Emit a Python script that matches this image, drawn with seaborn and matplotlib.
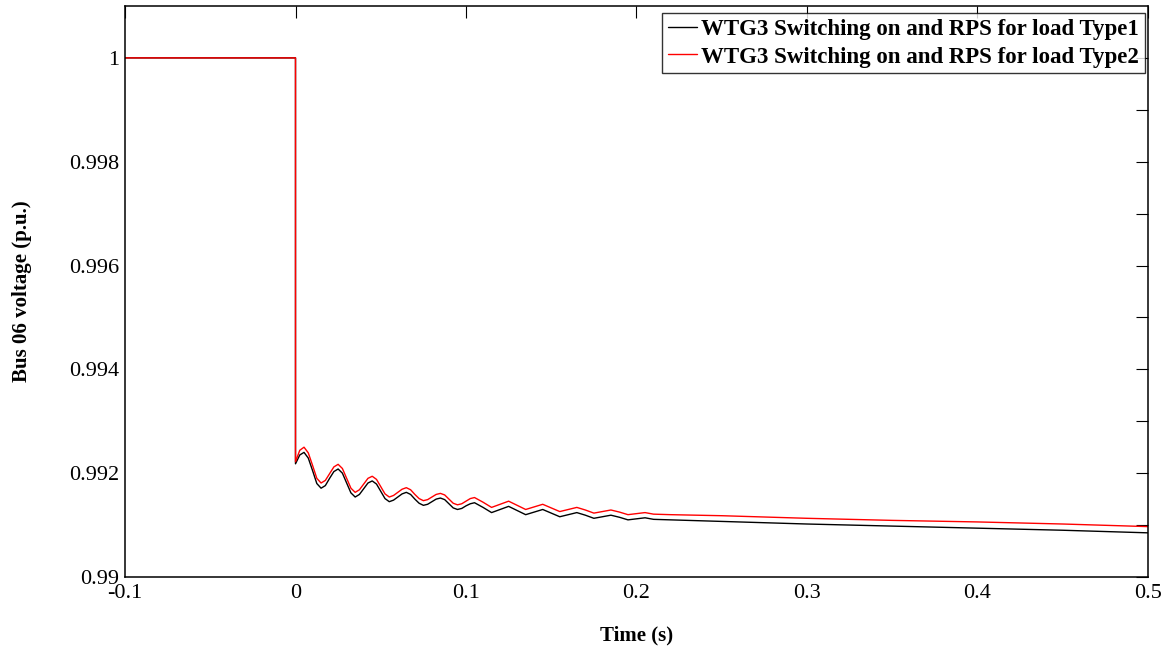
import numpy as np
import pandas as pd
import matplotlib
matplotlib.use("Agg")
import matplotlib.pyplot as plt
import seaborn as sns

# ---- data ----
time_s = [-0.1, 0.0, 0.0, 0.0025, 0.005, 0.0075, 0.010, 0.0125, 0.015, 0.0175, 0.020, 0.0225,
          0.025, 0.0275, 0.030, 0.0325, 0.035, 0.0375, 0.040, 0.0425, 0.045, 0.0475, 0.050,
          0.0525, 0.055, 0.0575, 0.060, 0.0625, 0.065, 0.0675, 0.070, 0.0725, 0.075, 0.0775,
          0.080, 0.0825, 0.085, 0.0875, 0.090, 0.0925, 0.095, 0.0975, 0.100, 0.1025, 0.105,
          0.110, 0.115, 0.120, 0.125, 0.130, 0.135, 0.140, 0.145, 0.150, 0.155, 0.160, 0.165,
          0.170, 0.175, 0.180, 0.185, 0.190, 0.195, 0.200, 0.205, 0.21, 0.22, 0.25, 0.30,
          0.35, 0.40, 0.45, 0.50]

v_type1 = [1.0, 1.0, 0.99218, 0.99235, 0.99240, 0.99229, 0.99205, 0.99180, 0.99171, 0.99176,
           0.99190, 0.99203, 0.99208, 0.99200, 0.99181, 0.99162, 0.99154, 0.99159, 0.99170,
           0.99181, 0.99185, 0.99179, 0.99165, 0.99151, 0.99145, 0.99148, 0.99154, 0.99160,
           0.99163, 0.99159, 0.99150, 0.99142, 0.99138, 0.99140, 0.99145, 0.99150, 0.99152,
           0.99149, 0.99141, 0.99133, 0.99130, 0.99132, 0.99137, 0.99141, 0.99143, 0.99134,
           0.99124, 0.99130, 0.99136, 0.99128, 0.99120, 0.99125, 0.99130, 0.99123, 0.99116,
           0.99120, 0.99124, 0.99119, 0.99113, 0.99116, 0.99119, 0.99115, 0.99110, 0.99112,
           0.99114, 0.99111, 0.99110, 0.99107, 0.99102, 0.99098, 0.99094, 0.99090, 0.99085]

v_type2 = [1.0, 1.0, 0.99222, 0.99244, 0.99250, 0.99239, 0.99215, 0.99190, 0.99181, 0.99186,
           0.99199, 0.99212, 0.99217, 0.99209, 0.99190, 0.99171, 0.99163, 0.99168, 0.99179,
           0.99190, 0.99194, 0.99188, 0.99174, 0.99160, 0.99154, 0.99157, 0.99163, 0.99169,
           0.99172, 0.99168, 0.99159, 0.99151, 0.99147, 0.99149, 0.99154, 0.99159, 0.99161,
           0.99158, 0.99150, 0.99142, 0.99139, 0.99141, 0.99146, 0.99151, 0.99153, 0.99144,
           0.99134, 0.99140, 0.99146, 0.99138, 0.99130, 0.99135, 0.99140, 0.99133, 0.99126,
           0.99130, 0.99134, 0.99129, 0.99123, 0.99126, 0.99129, 0.99125, 0.99120, 0.99122,
           0.99124, 0.99121, 0.99120, 0.99118, 0.99113, 0.99109, 0.99106, 0.99102, 0.99097]

series_names = ["WTG3 Switching on and RPS for load Type1",
                "WTG3 Switching on and RPS for load Type2"]
series_colors = ["#000000", "#ff0000"]

x_ticks = [-0.1, 0.0, 0.1, 0.2, 0.3, 0.4, 0.5]
x_tick_labels = ["-0.1", "0", "0.1", "0.2", "0.3", "0.4", "0.5"]
y_ticks = [0.990, 0.991, 0.992, 0.993, 0.994, 0.995, 0.996, 0.997, 0.998, 0.999, 1.000]
y_tick_labels = ["0.99", "", "0.992", "", "0.994", "", "0.996", "", "0.998", "", "1"]

df = pd.concat([
    pd.DataFrame({"t": time_s, "v": v_type1, "series": series_names[0]}),
    pd.DataFrame({"t": time_s, "v": v_type2, "series": series_names[1]}),
], ignore_index=True)

sns.set_theme(style="white")
plt.rcParams["font.family"] = ["Liberation Serif", "DejaVu Serif"]

fig = plt.figure(figsize=(11.65, 6.49), dpi=100)
ax = fig.add_axes([0.1073, 0.1110, 0.8781, 0.8798])

sns.lineplot(data=df, x="t", y="v", hue="series", palette=series_colors,
             estimator=None, sort=False, linewidth=1.0, ax=ax)

ax.set_xlim(-0.1, 0.5)
ax.set_ylim(0.99, 1.001)
ax.set_xticks(x_ticks)
ax.set_xticklabels(x_tick_labels)
ax.set_yticks(y_ticks)
ax.set_yticklabels(y_tick_labels)

ax.tick_params(direction="in", length=8.5, width=0.8, top=True, right=True,
               labelsize=16, colors="black")
ax.tick_params(axis="x", pad=5)
ax.tick_params(axis="y", pad=4)
for sp in ax.spines.values():
    sp.set_color("black")
    sp.set_linewidth(1.1)

ax.set_xlabel("Time (s)", fontsize=15, fontweight="bold", labelpad=16, color="black")
ax.set_ylabel("Bus 06 voltage (p.u.)", fontsize=15, fontweight="bold", labelpad=27,
              color="black")

leg = ax.legend(loc="upper right", bbox_to_anchor=(0.997, 0.988), borderaxespad=0.0,
                fontsize=16.5, frameon=True, fancybox=False, edgecolor="black",
                borderpad=0.25, handlelength=1.25, handletextpad=0.2,
                labelspacing=0.3)
leg.get_frame().set_linewidth(1.0)
for txt in leg.get_texts():
    txt.set_fontweight("bold")
    txt.set_color("black")

fig.savefig("out.png", dpi=100, facecolor="white")
